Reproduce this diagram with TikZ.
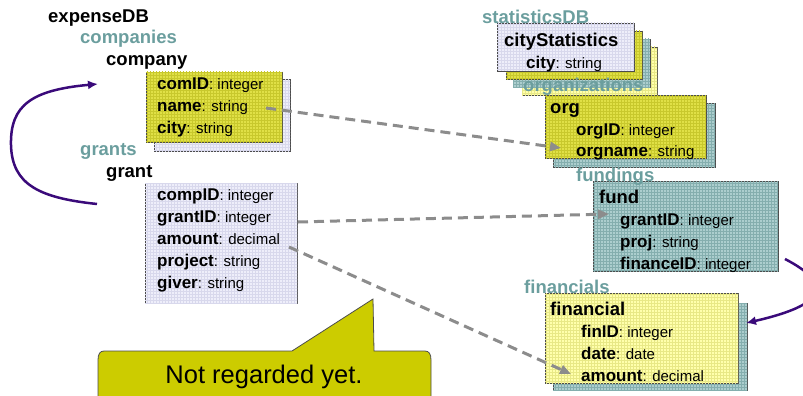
\documentclass[tikz,border=0pt]{standalone}
\usepackage{fontspec}
\setmainfont{Liberation Sans}
\usetikzlibrary{arrows.meta,patterns}

\definecolor{headteal}{RGB}{107,158,158}
\definecolor{olivefill}{RGB}{224,224,70}
\definecolor{olivegrid}{RGB}{200,200,44}
\definecolor{lavfill}{RGB}{238,238,250}
\definecolor{lavgrid}{RGB}{216,216,236}
\definecolor{tealfill}{RGB}{172,206,206}
\definecolor{tealgrid}{RGB}{132,174,174}
\definecolor{lemonfill}{RGB}{255,255,172}
\definecolor{lemongrid}{RGB}{232,232,134}
\definecolor{calloutfill}{RGB}{204,204,0}
\definecolor{linkpurple}{RGB}{58,10,122}
\definecolor{linkgray}{RGB}{140,140,140}

% attribute line: bold name, plain type
\newcommand\attr[2]{{\fontsize{17}{20}\selectfont\bfseries #1}: #2}

\begin{document}
\begin{tikzpicture}[x=1pt,y=-1pt,
  heading/.style={anchor=base west,inner sep=0pt,font=\fontsize{18.5}{22}\selectfont\bfseries,text=headteal},
  element/.style={anchor=base west,inner sep=0pt,font=\fontsize{18.5}{22}\selectfont\bfseries},
  field/.style={anchor=base west,inner sep=0pt,font=\fontsize{15}{17}\selectfont},
  tbox/.style={draw=black!70,line width=0.8pt,inner sep=0pt,outer sep=0pt,anchor=north west},
  olivebox/.style={tbox,fill=olivefill,postaction={pattern=grid,pattern color=olivegrid}},
  lavbox/.style={tbox,fill=lavfill,postaction={pattern=grid,pattern color=lavgrid}},
  tealbox/.style={tbox,fill=tealfill,postaction={pattern=grid,pattern color=tealgrid}},
  lemonbox/.style={tbox,fill=lemonfill,postaction={pattern=grid,pattern color=lemongrid}},
  reflink/.style={linkgray,line width=3pt,dash pattern=on 10pt off 6pt,-{Triangle[length=11pt,width=9pt]}},
  keylink/.style={linkpurple,line width=2.5pt,-{Latex[length=10pt,width=9pt]}}]
\useasboundingbox (0,0) rectangle (803,396);
\clip (0,0) rectangle (803,396);

% ---------- expenseDB ----------
\node[element] (expenseDB) at (48,23) {expenseDB};
\node[heading] (companies) at (80,44) {companies};
\node[element] (company) at (106,66) {company};

\node[lavbox,minimum width=136pt,minimum height=72pt] (companyBack) at (154,79) {};
\node[olivebox,minimum width=136pt,minimum height=70pt] (companyBox) at (146,72) {};
\node[field] (comID) at (157,89) {\attr{comID}{integer}};
\node[field] (comName) at (157,111) {\attr{name}{string}};
\node[field] (comCity) at (157,133) {\attr{city}{string}};

\node[heading] (grants) at (80,155) {grants};
\node[element] (grant) at (106,177) {grant};

\node[lavbox,minimum width=152pt,minimum height=120pt] (grantBox) at (145,183) {};
\node[field] (compID) at (157,200) {\attr{compID}{integer}};
\node[field] (grantID) at (157,222) {\attr{grantID}{integer}};
\node[field] (grantAmount) at (157,244) {\attr{amount}{decimal}};
\node[field] (project) at (157,266) {\attr{project}{string}};
\node[field] (giver) at (157,288) {\attr{giver}{string}};

% ---------- statisticsDB ----------
\node[lemonbox,minimum width=135pt,minimum height=48pt] (statD) at (522,47) {};
\node[tealbox,minimum width=137pt,minimum height=48pt] (statC) at (513,39) {};
\node[olivebox,minimum width=136pt,minimum height=48pt] (statB) at (506,31) {};
\node[lavbox,minimum width=137pt,minimum height=48pt] (statA) at (497,23) {};
\node[element] (cityStatistics) at (504,47) {cityStatistics};
\node[field] (statCity) at (526,68) {\attr{city}{string}};
\node[heading] (statisticsDB) at (482,24) {statisticsDB};
\node[heading] (organizations) at (523,92) {organizations};

\node[tealbox,minimum width=162pt,minimum height=64pt] (orgBack) at (553,103) {};
\node[olivebox,minimum width=161pt,minimum height=63pt] (orgBox) at (545,95) {};
\node[element] (org) at (550,113) {org};
\node[field] (orgID) at (576,135) {\attr{orgID}{integer}};
\node[field] (orgname) at (576,156) {\attr{orgname}{string}};

\node[tealbox,minimum width=185pt,minimum height=90pt] (fundBox) at (593,181) {};
\node[heading] (fundings) at (576,181) {fundings};
\node[element] (fund) at (599,203) {fund};
\node[field] (fundGrantID) at (620,225) {\attr{grantID}{integer}};
\node[field] (proj) at (620,247) {\attr{proj}{string}};
\node[field] (financeID) at (620,269) {\attr{financeID}{integer}};

\node[heading] (financials) at (524,293) {financials};
\node[tealbox,minimum width=194pt,minimum height=87pt] (finBack) at (553,303) {};
\node[lemonbox,minimum width=193pt,minimum height=90pt] (finBox) at (545,293) {};
\node[element] (financial) at (550,315) {financial};
\node[field] (finID) at (581,337) {\attr{finID}{integer}};
\node[field] (finDate) at (581,359) {\attr{date}{date}};
\node[field] (finAmount) at (581,381) {\attr{amount}{decimal}};

% ---------- references between the two databases ----------
\coordinate (nameRef) at (266,108);
\coordinate (orgRef) at (561,148);
\coordinate (grantRef) at (298,222);
\coordinate (fundRef) at (609,214);
\coordinate (amountRef) at (289,247);
\coordinate (finRef) at (571,374);
\draw[reflink] (nameRef) -- (orgRef);
\draw[reflink] (grantRef) -- (fundRef);
\draw[reflink] (amountRef) -- (finRef);

% ---------- key links ----------
\coordinate (grantKey) at (97,204);
\coordinate (companyKey) at (98,84);
\draw[keylink] (grantKey) .. controls (40,198) and (12,185) .. (11,145)
  .. controls (10,105) and (32,90) .. (companyKey);
\coordinate (financeKey) at (785,259);
\coordinate (finKey) at (746,323);
\draw[keylink] (financeKey) .. controls (835,285) and (825,305) .. (finKey);

% ---------- callout ----------
\draw[fill=calloutfill,draw=black!70,line width=0.8pt]
  (104,351) -- (292,351) -- (373,299) -- (374,351) -- (425,351)
  .. controls (429,351) and (431,354) .. (431,360) -- (431,400) -- (98,400)
  -- (98,360) .. controls (98,354) and (100,351) .. (104,351) -- cycle;
\node[anchor=base,inner sep=0pt,font=\fontsize{25.5}{30}\selectfont] (notRegarded) at (264,383) {Not regarded yet.};
\end{tikzpicture}
\end{document}
